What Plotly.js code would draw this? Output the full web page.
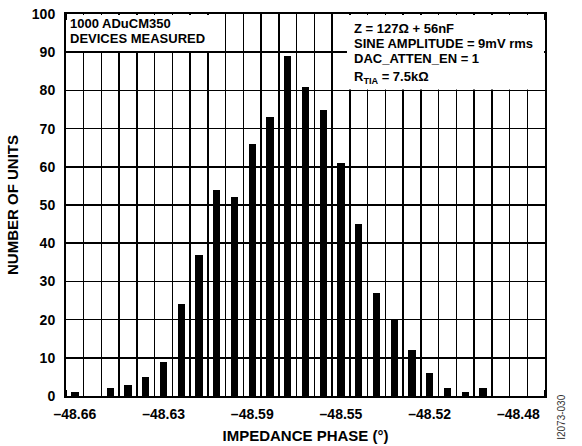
<!DOCTYPE html>
<html>
<head>
<meta charset="utf-8">
<script src="https://cdn.plot.ly/plotly-3.0.1.min.js"></script>
<style>html,body{margin:0;padding:0;background:#fff;}#chart{width:582px;height:446px;}</style>
</head>
<body>
<div id="chart"></div>
<script>
// Bin index (0..26) and unit counts
const binIndex = [0,1,2,3,4,5,6,7,8,9,10,11,12,13,14,15,16,17,18,19,20,21,22,23,24,25,26];
const unitCounts = [1,0,2,3,5,9,24,37,54,52,66,73,89,81,75,61,45,27,20,12,6,2,1,2,0,0,0];
const tickBins = [0,5,10,15,20,25];
const tickLabels = ['\u201348.66','\u201348.63','\u201348.59','\u201348.55','\u201348.52','\u201348.48'];
const yTicks = [0,10,20,30,40,50,60,70,80,90,100];
const leftNote = ['1000 ADuCM350','DEVICES MEASURED'];
const rightNote = ['Z = 127\u03A9 + 56nF','SINE AMPLITUDE = 9mV rms','DAC_ATTEN_EN = 1','R<sub>TIA</sub> = 7.5k\u03A9'];

const F = 'Liberation Sans, Arial, Helvetica, sans-serif';

const trace = {
  type: 'bar',
  x: binIndex,
  y: unitCounts,
  width: 0.41,
  marker: {color: '#000', line: {width: 0}},
  hoverinfo: 'skip'
};

const annotations = [];
const leftY = [0.974, 0.936];
leftNote.forEach((t, i) => annotations.push({
  xref: 'paper', yref: 'paper', x: 0.005, y: leftY[i], xanchor: 'left', yanchor: 'middle',
  text: '<b>' + t + '</b>', showarrow: false, font: {family: F, size: 13, color: '#000'}
}));
const rightY = [0.963, 0.923, 0.884, 0.835];
rightNote.forEach((t, i) => annotations.push({
  xref: 'paper', yref: 'paper', x: 0.5965, y: rightY[i], xanchor: 'left', yanchor: 'middle',
  text: '<b>' + t + '</b>', showarrow: false, font: {family: F, size: 13, color: '#000'}
}));
annotations.push({
  xref: 'paper', yref: 'paper', x: 1.033, y: -0.055, xanchor: 'center', yanchor: 'middle',
  text: 'I2073-030', textangle: -90, showarrow: false, font: {family: F, size: 10, color: '#333'}
});

const layout = {
  width: 582, height: 446,
  margin: {l: 66, r: 37, t: 14, b: 50},
  paper_bgcolor: '#fff', plot_bgcolor: '#fff',
  showlegend: false,
  font: {family: F, color: '#000'},
  xaxis: {
    range: [-0.5, 26.5],
    tickmode: 'array', tickvals: tickBins, ticktext: tickLabels,
    ticks: '', showgrid: false, zeroline: false,
    showline: true, linecolor: '#000', linewidth: 2, mirror: 'allticks',
    tickfont: {family: F, size: 14, color: '#000', weight: 'bold'},
    ticklabelstandoff: 4,
    minor: {tickmode: 'linear', tick0: -0.5, dtick: 1, showgrid: true, gridcolor: '#000', gridwidth: 1.5,
            ticks: 'inside', ticklen: 6, tickcolor: '#000', tickwidth: 1.5},
    title: {text: '<b>IMPEDANCE PHASE (\u00B0)</b>', font: {family: F, size: 15, color: '#000'}, standoff: 10},
    fixedrange: true
  },
  yaxis: {
    range: [0, 100],
    tickmode: 'array', tickvals: yTicks,
    ticks: 'inside', ticklen: 6, tickcolor: '#000', tickwidth: 1.5,
    showgrid: true, gridcolor: '#000', gridwidth: 1.5, zeroline: false,
    showline: true, linecolor: '#000', linewidth: 2, mirror: 'allticks',
    tickfont: {family: F, size: 14, color: '#000', weight: 'bold'},
    ticklabelstandoff: 6,
    title: {text: '<b>NUMBER OF UNITS</b>', font: {family: F, size: 15, color: '#000'}, standoff: 10},
    fixedrange: true
  },
  shapes: [
    {type: 'rect', xref: 'paper', yref: 'paper', x0: 0.0021, x1: 0.311, y0: 0.9031, y1: 0.9974,
     fillcolor: '#fff', line: {width: 0}, layer: 'above'},
    {type: 'rect', xref: 'paper', yref: 'paper', x0: 0.5866, x1: 0.9979, y0: 0.8024, y1: 0.9974,
     fillcolor: '#fff', line: {width: 0}, layer: 'above'}
  ],
  annotations: annotations,
  bargap: 0
};

Plotly.newPlot('chart', [trace], layout, {displayModeBar: false, staticPlot: true});
</script>
</body>
</html>
